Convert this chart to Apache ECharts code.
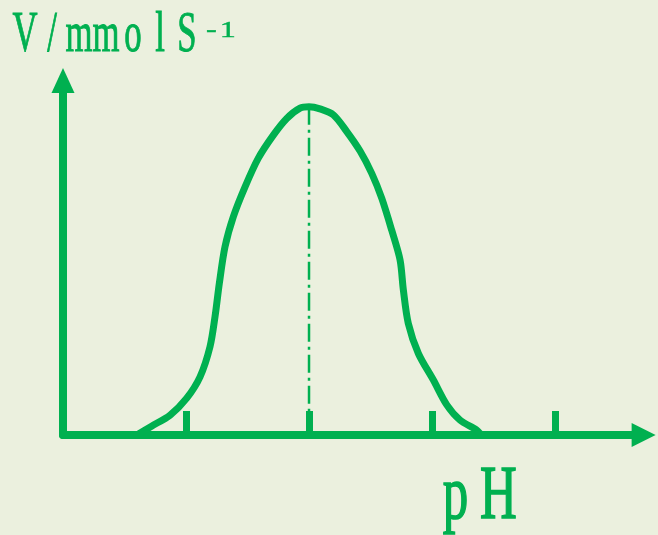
<!DOCTYPE html>
<html>
<head>
<meta charset="utf-8">
<title>V - pH</title>
<script src="https://cdn.jsdelivr.net/npm/echarts@6/dist/echarts.min.js"></script>
<style>
  html, body { margin: 0; padding: 0; background: #ebf0de; }
  #chart { width: 658px; height: 535px; }
</style>
</head>
<body>
<div id="chart"></div>
<script>
// Reaction rate against pH: bell-shaped curve with its optimum marked.
const phValues = [0.60, 0.72, 0.87, 1.006, 1.114, 1.195, 1.236, 1.271, 1.317, 1.385, 1.480, 1.588,
  1.710, 1.819, 1.927, 2.00, 2.089, 2.198, 2.307, 2.415, 2.510, 2.591, 2.672, 2.740, 2.767,
  2.807, 2.889, 3.011, 3.120, 3.228, 3.363, 3.40];
const rateValues = [0.00, 0.25, 0.56, 1.04, 1.64, 2.49, 3.34, 4.28, 5.31, 6.16, 7.00, 7.81,
  8.46, 8.93, 9.22, 9.26, 9.20, 9.03, 8.56, 8.01, 7.38, 6.68, 5.78, 4.94, 4.09,
  3.15, 2.30, 1.55, 0.85, 0.42, 0.14, 0.00];
const tickValues = [1, 2, 3, 4];
const optimumPH = 2;
const optimumRate = 9.26;
const yTitle = ['V', '/', 'm', 'm', 'o', 'l', 'S'];
const ySup = ['-', '1'];
const xTitle = ['p', 'H'];

const GREEN = '#00b050';
const FONT = '"Liberation Serif", "DejaVu Serif", serif';

const curveData = phValues.map((p, i) => [p, rateValues[i]]);
const guideData = [[optimumPH, optimumRate], [optimumPH, 0]];

// Monospaced-looking titles: each glyph sits in a fixed-width cell.
function cellText(chars) {
  return chars.map(c => '{c|' + c + '}').join('');
}
function titleText(chars, x, y, size, scaleX, cell, strokeW) {
  return {
    type: 'text', x: x, y: y, scaleX: scaleX, silent: true,
    style: {
      text: cellText(chars), align: 'left', verticalAlign: 'middle',
      fill: GREEN, font: size + 'px ' + FONT,
      rich: {
        c: {
          width: cell / scaleX, align: 'center', fontSize: size, fontFamily: FONT,
          fill: GREEN, stroke: GREEN, lineWidth: strokeW
        }
      }
    }
  };
}

const chart = echarts.init(document.getElementById('chart'), null, { renderer: 'canvas' });
chart.setOption({
  backgroundColor: '#ebf0de',
  animation: false,
  grid: { left: 63, top: 80.5, width: 580.6, height: 354.5, containLabel: false },
  xAxis: {
    type: 'value', min: 0, max: 4.72,
    axisLine: {
      show: true, onZero: false,
      symbol: ['none', 'triangle'], symbolSize: [24, 24],
      lineStyle: { color: GREEN, width: 8 }
    },
    axisTick: {
      show: true, inside: true, length: 24, customValues: tickValues,
      lineStyle: { color: GREEN, width: 7 }
    },
    axisLabel: { show: false },
    splitLine: { show: false }
  },
  yAxis: {
    type: 'value', min: 0, max: 10,
    axisLine: {
      show: true, onZero: false,
      symbol: ['none', 'triangle'], symbolSize: [23, 25],
      lineStyle: { color: GREEN, width: 8 }
    },
    axisTick: { show: false },
    axisLabel: { show: false },
    splitLine: { show: false }
  },
  series: [
    {
      type: 'line', data: guideData, showSymbol: false, silent: true, z: 2,
      lineStyle: { color: GREEN, width: 2.5, type: [18, 5, 3, 5] }
    },
    {
      type: 'line', data: curveData, smooth: 0.3, showSymbol: false, silent: true, z: 3,
      lineStyle: { color: GREEN, width: 7, cap: 'round', join: 'round' }
    }
  ],
  graphic: [
    titleText(yTitle, 11.5, 36.5, 56, 0.62, 27, 0.9),
    titleText(ySup, 203, 30.5, 23, 1.4, 16.5, 0.4),
    titleText(xTitle, 434, 498, 76, 0.67, 43, 1.6)
  ]
});
</script>
</body>
</html>
